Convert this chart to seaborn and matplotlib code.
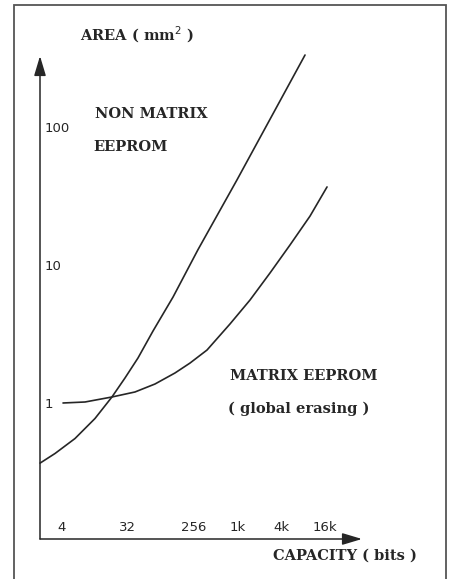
import numpy as np
import pandas as pd
import matplotlib
matplotlib.use("Agg")
import matplotlib.pyplot as plt
import matplotlib.transforms as mtransforms
from matplotlib.patches import Rectangle
import seaborn as sns

# capacity in bits, area in mm^2
non_matrix_bits = [2, 3.21, 6.03, 11.35, 19.4, 29.3, 44.2, 71.1, 134, 294, 1010, 8700]
non_matrix_area = [0.373, 0.438, 0.562, 0.785, 1.124, 1.543, 2.154, 3.38, 5.96, 13.1, 42, 338]

matrix_bits = [4.13, 8.28, 19.4, 40.2, 75.7, 142.5, 229, 392, 811, 1528, 2875, 5410, 10190, 17450]
matrix_area = [1.017, 1.034, 1.124, 1.222, 1.396, 1.678, 1.98, 2.46, 3.80, 5.67, 8.90, 14.2, 23.0, 37.4]

x_ticks = [4, 32, 256, 1024, 4096, 16384]
x_tick_labels = ["4", "32", "256", "1k", "4k", "16k"]
y_ticks = [1, 10, 100]
y_tick_labels = ["1", "10", "100"]

W, H = 449, 579
ink = "#262626"

sns.set_style("white")
plt.rcParams["font.family"] = ["DejaVu Sans"]

fig = plt.figure(figsize=(W / 100, H / 100), dpi=100)
ax = fig.add_axes([40 / W, (H - 539) / H, 322 / W, (539 - 56) / H])

df_nm = pd.DataFrame({"bits": non_matrix_bits, "area": non_matrix_area})
df_m = pd.DataFrame({"bits": matrix_bits, "area": matrix_area})
sns.lineplot(data=df_nm, x="bits", y="area", color=ink, linewidth=1.2,
             sort=False, clip_on=False, ax=ax)
sns.lineplot(data=df_m, x="bits", y="area", color=ink, linewidth=1.2,
             sort=False, clip_on=False, ax=ax)

ax.set_xscale("log", base=2)
ax.set_yscale("log", base=10)
ax.set_xlim(2 ** (2 + (40 - 62) / 21.92), 2 ** (2 + (362 - 62) / 21.92))
ax.set_ylim(10 ** ((404 - 539) / 138), 10 ** ((404 - 56) / 138))
ax.set_xlabel("")
ax.set_ylabel("")
for s in ax.spines.values():
    s.set_visible(False)

ax.set_xticks(x_ticks)
ax.set_yticks(y_ticks)
ax.minorticks_off()
ax.tick_params(axis="both", which="major", direction="inout", length=5,
               width=1, color=ink, labelleft=False, labelbottom=False)

# axis arrows
arrow = dict(arrowstyle="-|>,head_length=0.6,head_width=0.18", lw=1.1,
             color=ink, shrinkA=0, shrinkB=0, mutation_scale=20)
ax.annotate("", xy=(0, 1), xytext=(0, 0), xycoords="axes fraction", arrowprops=arrow)
ax.annotate("", xy=(1, 0), xytext=(0, 0), xycoords="axes fraction", arrowprops=arrow)

# tick labels sit inside the axes
off_x = mtransforms.offset_copy(ax.get_xaxis_transform(), fig=fig, y=5, units="dots")
for v, lab in zip(x_ticks, x_tick_labels):
    ax.text(v, 0, lab, transform=off_x, ha="center", va="bottom",
            fontsize=9.5, color=ink)
off_y = mtransforms.offset_copy(ax.get_yaxis_transform(), fig=fig, x=5, units="dots")
for v, lab in zip(y_ticks, y_tick_labels):
    ax.text(0, v, lab, transform=off_y, ha="left", va="center",
            fontsize=9.5, color=ink)

serif = dict(family="DejaVu Serif", fontsize=10.5, fontweight="bold",
             color=ink, va="baseline", ha="left")
labels = [
    (80, 41, "AREA ( mm$^2$ )"),
    (95, 118, "NON MATRIX"),
    (93, 151, "EEPROM"),
    (230, 380, "MATRIX EEPROM"),
    (228, 413, "( global erasing )"),
    (273, 560, "CAPACITY ( bits )"),
]
for px, py, txt in labels:
    fig.text(px / W, 1 - py / H, txt, **serif)

# frame around the figure (bottom edge runs off the page)
fig.add_artist(Rectangle((14 / W, -0.05), 432 / W, 1 - 5 / H + 0.05,
                         transform=fig.transFigure, fill=False,
                         edgecolor="#555555", linewidth=1.3, clip_on=False))

fig.savefig("out.png", dpi=100)
